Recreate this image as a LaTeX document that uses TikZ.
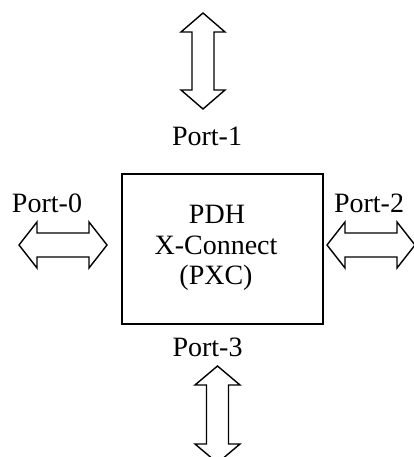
\documentclass[tikz,border=0pt]{standalone}
\usepackage{fontspec}
\setmainfont{Liberation Serif}
\begin{document}
\begin{tikzpicture}[x=1pt,y=-1pt,
  lbl/.style={font=\fontsize{28}{31}\selectfont, inner sep=0pt, anchor=base},
  darrow/.style={draw=black, line width=1.4pt, line join=miter, fill=white},
  boxstyle/.style={draw=black, line width=1.3pt}]
\useasboundingbox (0,0) rectangle (414,457);
% central box
\draw[boxstyle] (122,174) rectangle (323,324);
\node[lbl] (pdh) at (217,223) {PDH};
\node[lbl] (xc) at (216,254) {X-Connect};
\node[lbl] (pxc) at (216,284) {(PXC)};
% labels
\node[lbl] (p1) at (207,146) {Port-1};
\node[lbl] (p0) at (47,212) {Port-0};
\node[lbl] (p2) at (369,212) {Port-2};
\node[lbl] (p3) at (207.5,356) {Port-3};
% top arrow (Port-1)
\draw[darrow] (203,13) -- (225,32) -- (214,32) -- (214,90) -- (225,90) -- (203,109)
  -- (181,90) -- (192,90) -- (192,32) -- (181,32) -- cycle;
% bottom arrow (Port-3)
\draw[darrow] (217.5,366) -- (240,385) -- (228.5,385) -- (228.5,444) -- (240,444) -- (217.5,463)
  -- (195,444) -- (206.5,444) -- (206.5,385) -- (195,385) -- cycle;
% left arrow (Port-0)
\draw[darrow] (19,245) -- (37,222) -- (37,233) -- (89,233) -- (89,222) -- (107,245)
  -- (89,268) -- (89,257) -- (37,257) -- (37,268) -- cycle;
% right arrow (Port-2)
\draw[darrow] (327,245) -- (345,222) -- (345,233) -- (397,233) -- (397,222) -- (415,245)
  -- (397,268) -- (397,257) -- (345,257) -- (345,268) -- cycle;
\end{tikzpicture}
\end{document}
